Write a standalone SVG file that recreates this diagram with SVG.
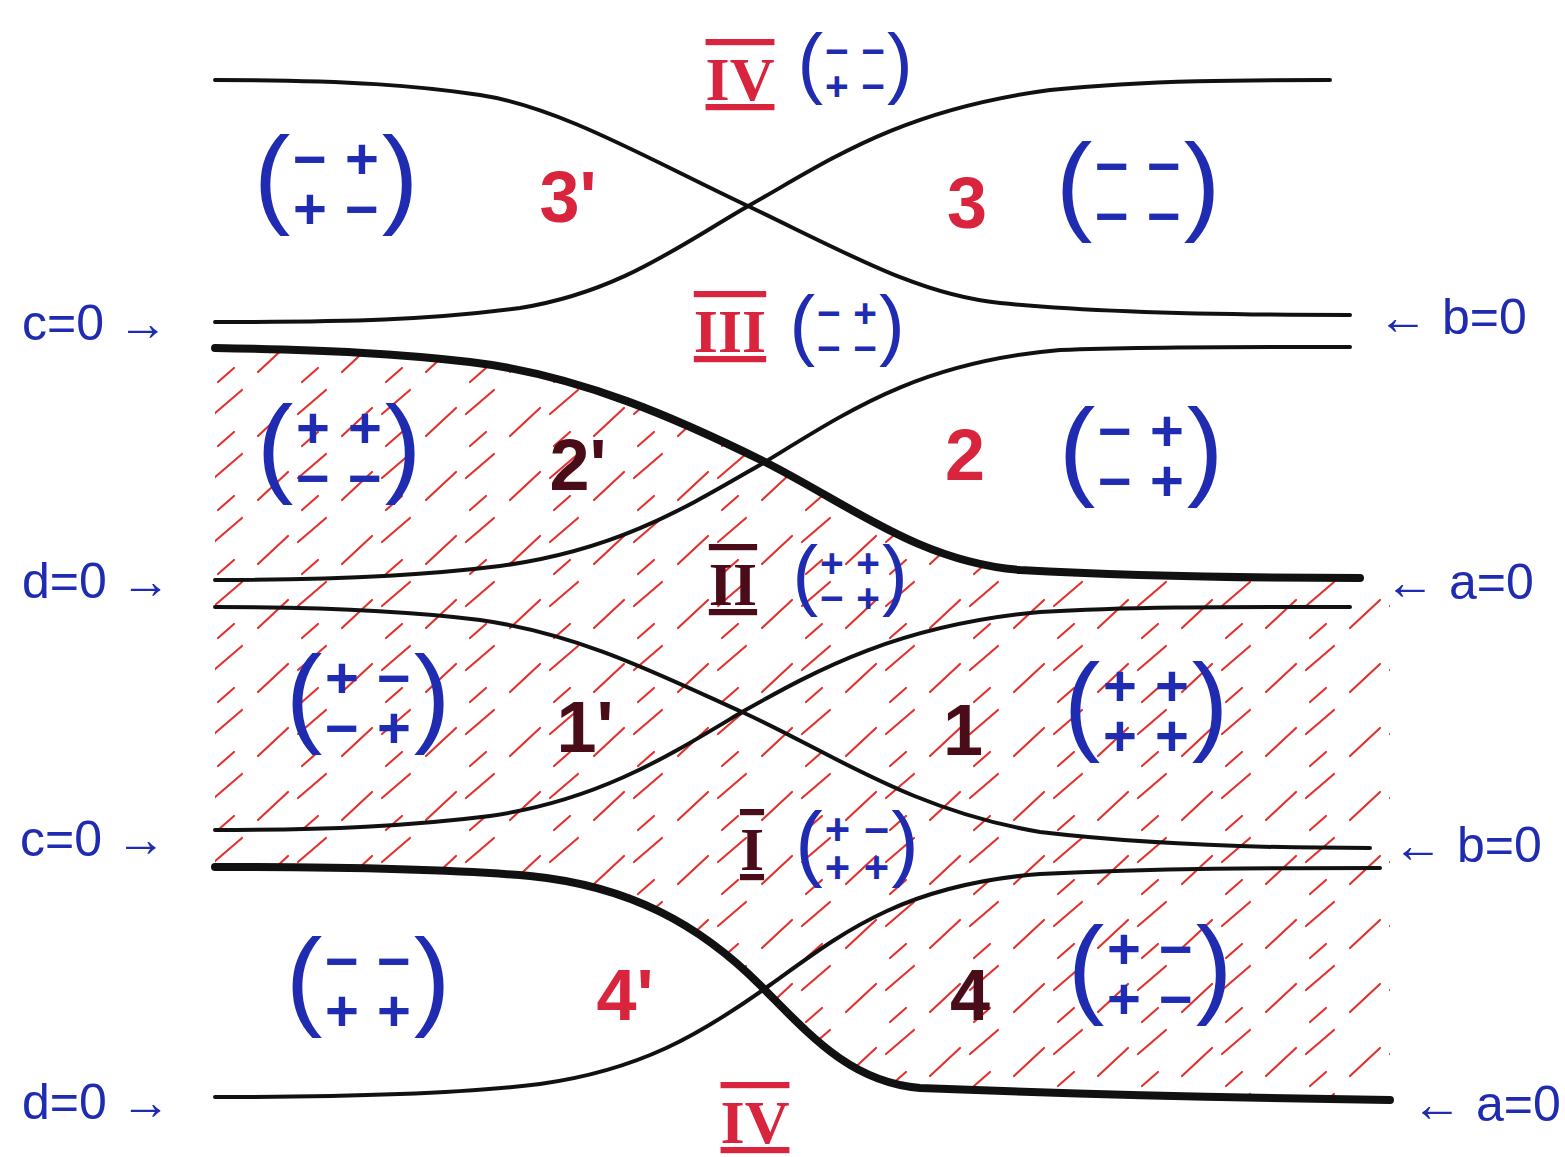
<svg xmlns="http://www.w3.org/2000/svg" width="1565" height="1157" viewBox="0 0 1565 1157">
<style>
.thin{fill:none;stroke:#111;stroke-width:4;stroke-linecap:round;stroke-linejoin:round}
.thick{fill:none;stroke:#111;stroke-width:8;stroke-linecap:round;stroke-linejoin:round}
.par{font-family:"Liberation Sans",Arial,sans-serif;font-size:110px;fill:#1f2bb0;text-anchor:middle}
.sg{font-family:"Liberation Sans",Arial,sans-serif;font-size:58px;font-weight:bold;fill:#1f2bb0;text-anchor:middle}
.side{font-family:"Liberation Sans",Arial,sans-serif;font-size:50px;fill:#1f2bb0}
.num{font-family:"Liberation Sans",Arial,sans-serif;font-size:72px;font-weight:bold;text-anchor:middle}
.rom{font-family:"Liberation Serif","Times New Roman",serif;font-size:62px;font-weight:bold;text-anchor:middle;text-decoration:underline overline;text-decoration-thickness:6px}
.red{fill:#d8243c}
.dark{fill:#4a0c18}
</style>
<defs>
<pattern id="hatch" patternUnits="userSpaceOnUse" width="84" height="64">
<path d="M6,52 L36,24 M46,30 L74,6 M50,62 L66,48" stroke="#e2322e" stroke-width="2.2" stroke-linecap="round" fill="none"/>
</pattern>
</defs>
<rect width="1565" height="1157" fill="#ffffff"/>
<g id="shading">
<path d="M215,348 C330,350 400,354 470,362 C580,375 680,420 765,462 C850,505 920,562 1020,570 C1150,577 1260,578 1360,578 L1390,600 L1390,1100 C1250,1098 1100,1095 920,1088 C850,1082 810,1035 760,985 C700,925 630,886 530,876 C450,869 350,867 215,867 Z" fill="url(#hatch)"/>
</g>
<g id="connectors">
<path class="thin" d="M215,80 C350,80 420,86 480,95 C560,107 650,160 750,207 C850,255 920,295 1000,303 C1100,313 1250,315 1350,315"/>
<path class="thin" d="M215,322 C350,322 430,320 520,308 C620,292 680,245 750,205 C830,160 900,110 1050,90 C1150,80 1250,80 1330,80"/>
<path class="thick" d="M215,348 C330,350 400,354 470,362 C580,375 680,420 765,462 C850,505 920,562 1020,570 C1150,577 1260,578 1360,578"/>
<path class="thin" d="M215,580 C330,580 420,576 500,566 C620,550 690,505 765,462 C850,410 920,362 1060,350 C1160,346 1260,347 1350,347"/>
<path class="thin" d="M215,607 C330,607 410,611 480,620 C580,634 660,675 742,712 C830,752 910,810 1040,832 C1150,845 1260,848 1370,848"/>
<path class="thin" d="M215,830 C330,830 410,826 490,816 C600,800 670,755 742,712 C820,668 900,625 1040,612 C1140,606 1250,607 1350,607"/>
<path class="thick" d="M215,867 C350,867 450,869 530,876 C630,886 700,925 760,985 C810,1035 850,1082 920,1088 C1100,1095 1250,1098 1390,1100"/>
<path class="thin" d="M215,1097 C350,1097 460,1094 540,1084 C640,1070 700,1035 770,985 C840,935 900,885 1040,874 C1160,868 1270,868 1380,868"/>
</g>
<g id="side-labels">
<text class="side" x="22" y="340">c=0 →</text>
<text class="side" x="1378" y="334">← b=0</text>
<text class="side" x="22" y="598">d=0 →</text>
<text class="side" x="1385" y="599">← a=0</text>
<text class="side" x="20" y="856">c=0 →</text>
<text class="side" x="1393" y="862">← b=0</text>
<text class="side" x="22" y="1119">d=0 →</text>
<text class="side" x="1412" y="1121">← a=0</text>
</g>
<g id="node-IV-top">
<text class="rom red" x="740" y="100">IV</text>
<g transform="translate(855,68) scale(0.7)">
<text class="par" x="-64" y="30">(</text><text class="par" x="64" y="30">)</text>
<text class="sg" x="-26" y="-4">−</text><text class="sg" x="26" y="-4">−</text>
<text class="sg" x="-26" y="46">+</text><text class="sg" x="26" y="46">−</text>
</g>
</g>
<g id="node-3p">
<g transform="translate(336,183)">
<text class="par" x="-64" y="30">(</text><text class="par" x="64" y="30">)</text>
<text class="sg" x="-26" y="-4">−</text><text class="sg" x="26" y="-4">+</text>
<text class="sg" x="-26" y="46">+</text><text class="sg" x="26" y="46">−</text>
</g>
<text class="num red" x="568" y="222">3'</text>
</g>
<g id="node-3">
<text class="num red" x="967" y="228">3</text>
<g transform="translate(1138,190)">
<text class="par" x="-64" y="30">(</text><text class="par" x="64" y="30">)</text>
<text class="sg" x="-26" y="-4">−</text><text class="sg" x="26" y="-4">−</text>
<text class="sg" x="-26" y="46">−</text><text class="sg" x="26" y="46">−</text>
</g>
</g>
<g id="node-III">
<text class="rom red" x="730" y="352">III</text>
<g transform="translate(847,330) scale(0.7)">
<text class="par" x="-64" y="30">(</text><text class="par" x="64" y="30">)</text>
<text class="sg" x="-26" y="-4">−</text><text class="sg" x="26" y="-4">+</text>
<text class="sg" x="-26" y="46">−</text><text class="sg" x="26" y="46">−</text>
</g>
</g>
<g id="node-2p">
<g transform="translate(339,452)">
<text class="par" x="-64" y="30">(</text><text class="par" x="64" y="30">)</text>
<text class="sg" x="-26" y="-4">+</text><text class="sg" x="26" y="-4">+</text>
<text class="sg" x="-26" y="46">−</text><text class="sg" x="26" y="46">−</text>
</g>
<text class="num dark" x="578" y="490">2'</text>
</g>
<g id="node-2">
<text class="num red" x="965" y="480">2</text>
<g transform="translate(1141,455)">
<text class="par" x="-64" y="30">(</text><text class="par" x="64" y="30">)</text>
<text class="sg" x="-26" y="-4">−</text><text class="sg" x="26" y="-4">+</text>
<text class="sg" x="-26" y="46">−</text><text class="sg" x="26" y="46">+</text>
</g>
</g>
<g id="node-II">
<text class="rom dark" x="733" y="605">II</text>
<g transform="translate(850,580) scale(0.7)">
<text class="par" x="-64" y="30">(</text><text class="par" x="64" y="30">)</text>
<text class="sg" x="-26" y="-4">+</text><text class="sg" x="26" y="-4">+</text>
<text class="sg" x="-26" y="46">−</text><text class="sg" x="26" y="46">+</text>
</g>
</g>
<g id="node-1p">
<g transform="translate(368,702)">
<text class="par" x="-64" y="30">(</text><text class="par" x="64" y="30">)</text>
<text class="sg" x="-26" y="-4">+</text><text class="sg" x="26" y="-4">−</text>
<text class="sg" x="-26" y="46">−</text><text class="sg" x="26" y="46">+</text>
</g>
<text class="num dark" x="585" y="752">1'</text>
</g>
<g id="node-1">
<text class="num dark" x="963" y="755">1</text>
<g transform="translate(1146,710)">
<text class="par" x="-64" y="30">(</text><text class="par" x="64" y="30">)</text>
<text class="sg" x="-26" y="-4">+</text><text class="sg" x="26" y="-4">+</text>
<text class="sg" x="-26" y="46">+</text><text class="sg" x="26" y="46">+</text>
</g>
</g>
<g id="node-I">
<text class="rom dark" x="752" y="870">I</text>
<g transform="translate(857,848) scale(0.75)">
<text class="par" x="-64" y="30">(</text><text class="par" x="64" y="30">)</text>
<text class="sg" x="-26" y="-4">+</text><text class="sg" x="26" y="-4">−</text>
<text class="sg" x="-26" y="46">+</text><text class="sg" x="26" y="46">+</text>
</g>
</g>
<g id="node-4p">
<g transform="translate(368,985)">
<text class="par" x="-64" y="30">(</text><text class="par" x="64" y="30">)</text>
<text class="sg" x="-26" y="-4">−</text><text class="sg" x="26" y="-4">−</text>
<text class="sg" x="-26" y="46">+</text><text class="sg" x="26" y="46">+</text>
</g>
<text class="num red" x="625" y="1020">4'</text>
</g>
<g id="node-4">
<text class="num dark" x="970" y="1020">4</text>
<g transform="translate(1150,973)">
<text class="par" x="-64" y="30">(</text><text class="par" x="64" y="30">)</text>
<text class="sg" x="-26" y="-4">+</text><text class="sg" x="26" y="-4">−</text>
<text class="sg" x="-26" y="46">+</text><text class="sg" x="26" y="46">−</text>
</g>
</g>
<g id="node-IV-bottom">
<text class="rom red" x="755" y="1143">IV</text>
</g>
</svg>
